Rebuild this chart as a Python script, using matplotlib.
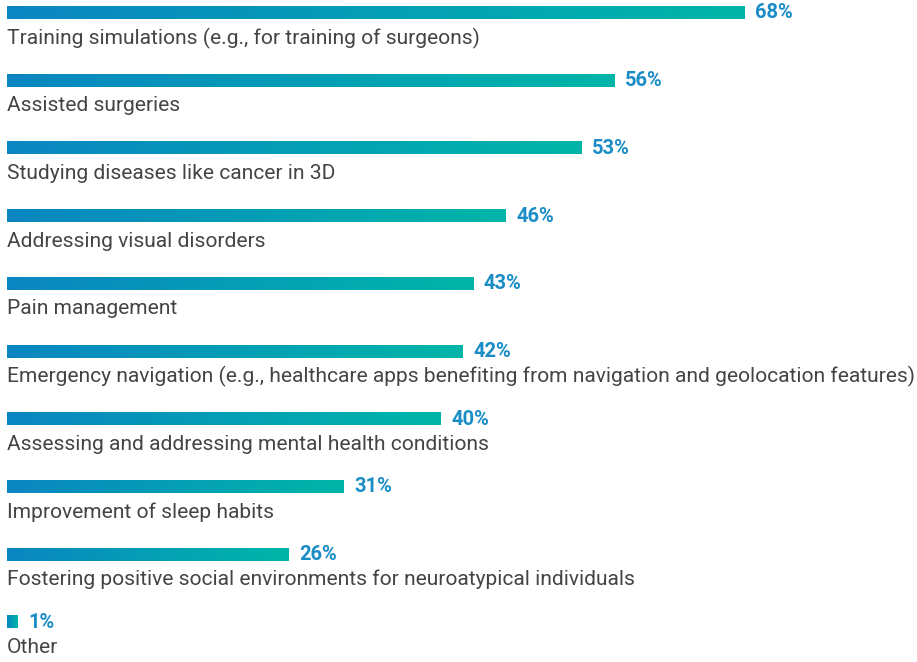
import matplotlib
matplotlib.use('Agg')
import matplotlib.pyplot as plt
import numpy as np
from matplotlib.colors import LinearSegmentedColormap

plt.rcParams.update({'font.family': ['Roboto', 'DejaVu Sans']})

categories = [
    'Training simulations (e.g., for training of surgeons)',
    'Assisted surgeries',
    'Studying diseases like cancer in 3D',
    'Addressing visual disorders',
    'Pain management',
    'Emergency navigation (e.g., healthcare apps benefiting from navigation and geolocation features)',
    'Assessing and addressing mental health conditions',
    'Improvement of sleep habits',
    'Fostering positive social environments for neuroatypical individuals',
    'Other',
]
values = [68, 56, 53, 46, 43, 42, 40, 31, 26, 1]

BLUE, TEAL = '#0a86c2', '#00b6a8'
LABEL_C, TEXT_C = '#1a8cc6', '#444444'
cmap = LinearSegmentedColormap.from_list('bar', [BLUE, TEAL])
grad = np.linspace(0, 1, 256).reshape(1, -1)

fig = plt.figure(figsize=(9.17, 6.62), dpi=100)
ax = fig.add_axes([7 / 917, 0, 910 / 917, 1])
ax.axis('off')

h = 0.18
for i, (cat, v) in enumerate(zip(categories, values)):
    ax.imshow(grad, cmap=cmap, aspect='auto', extent=(0, v, i + h / 2, i - h / 2),
              interpolation='bilinear', zorder=2)
    ax.text(v + 1.0, i, f'{v}%', ha='left', va='center', fontsize=14.5,
            weight='bold', color=LABEL_C)
    ax.text(0, i + 0.37, cat, ha='left', va='center', fontsize=15.1, color=TEXT_C)

ax.set_xlim(0, 910 / 10.84)
ax.set_ylim(9.587, -0.192)

fig.savefig('out.png', dpi=100, facecolor='white')
